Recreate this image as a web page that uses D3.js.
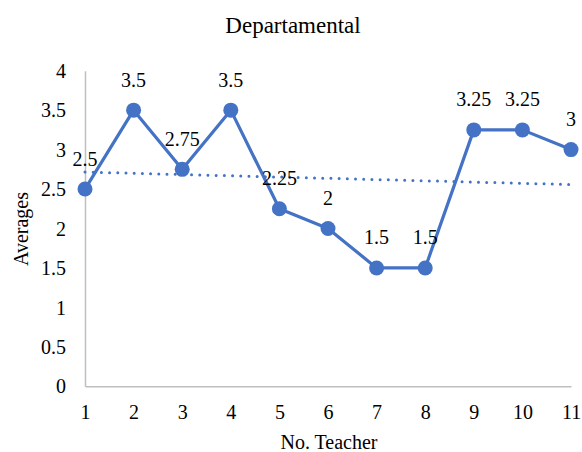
<!DOCTYPE html>
<html>
<head>
<meta charset="utf-8">
<script src="https://cdn.jsdelivr.net/npm/d3@7"></script>
<style>
  html, body { margin: 0; padding: 0; background: #fff; }
  svg text { font-family: "Liberation Serif", "Times New Roman", serif; fill: #000; }
</style>
</head>
<body>
<svg id="chart" width="582" height="452"></svg>
<script>
// Teacher numbers and their departmental averages
const teachers = [1, 2, 3, 4, 5, 6, 7, 8, 9, 10, 11];
const averages = [2.5, 3.5, 2.75, 3.5, 2.25, 2, 1.5, 1.5, 3.25, 3.25, 3];
const yTicks = [0, 0.5, 1, 1.5, 2, 2.5, 3, 3.5, 4];
const xTicks = teachers;

const svg = d3.select("#chart");
const blue = "#4472C4";
const axisGray = "#bfbfbf";
const serif = "'Liberation Serif', 'Times New Roman', serif";

const x = d3.scaleLinear().domain([1, 11]).range([85, 571]);
const y = d3.scaleLinear().domain([0, 4]).range([386.3, 70.7]);

// Title
svg.append("text")
  .attr("x", 293).attr("y", 33)
  .attr("text-anchor", "middle")
  .style("font-family", serif)
  .style("font-size", "23px")
  .text("Departamental");

// Y axis
const yAxis = svg.append("g")
  .attr("transform", `translate(${x(1)},0)`)
  .call(d3.axisLeft(y).tickValues(yTicks).tickSize(0).tickPadding(19)
    .tickFormat(d => String(d)));
yAxis.select(".domain").attr("stroke", axisGray).attr("stroke-width", 1.5);
yAxis.selectAll("text")
  .style("font-family", serif).style("font-size", "20px")
  .attr("dy", "0.33em");

// X axis
const xAxis = svg.append("g")
  .attr("transform", `translate(0,${y(0)})`)
  .call(d3.axisBottom(x).tickValues(xTicks).tickSize(0).tickPadding(0)
    .tickFormat(d => String(d)));
xAxis.select(".domain").attr("stroke", axisGray).attr("stroke-width", 1.5);
xAxis.selectAll("text")
  .style("font-family", serif).style("font-size", "20px")
  .attr("y", 33).attr("dy", 0);

// Axis titles
svg.append("text")
  .attr("transform", `translate(28,229) rotate(-90)`)
  .attr("text-anchor", "middle")
  .style("font-family", serif)
  .style("font-size", "20px")
  .text("Averages");

svg.append("text")
  .attr("x", 329).attr("y", 449)
  .attr("text-anchor", "middle")
  .style("font-family", serif)
  .style("font-size", "20px")
  .text("No. Teacher");

// Linear trendline (least squares fit over the averages)
const mx = d3.mean(teachers), my = d3.mean(averages);
const sxy = d3.sum(teachers, (t, i) => (t - mx) * (averages[i] - my));
const sxx = d3.sum(teachers, t => (t - mx) * (t - mx));
const slope = sxy / sxx, intercept = my - slope * mx;
const trend = [1, 11].map(t => [t, intercept + slope * t]);

svg.append("path")
  .datum(trend)
  .attr("d", d3.line().x(d => x(d[0])).y(d => y(d[1])))
  .attr("fill", "none")
  .attr("stroke", blue)
  .attr("stroke-width", 3)
  .attr("stroke-linecap", "round")
  .attr("stroke-dasharray", "0 8.2");

// Series line
const pts = teachers.map((t, i) => [t, averages[i]]);
svg.append("path")
  .datum(pts)
  .attr("d", d3.line().x(d => x(d[0])).y(d => y(d[1])))
  .attr("fill", "none")
  .attr("stroke", blue)
  .attr("stroke-width", 3.2)
  .attr("stroke-linejoin", "round");

// Markers
svg.append("g").selectAll("circle")
  .data(pts).join("circle")
  .attr("cx", d => x(d[0]))
  .attr("cy", d => y(d[1]))
  .attr("r", 7.5)
  .attr("fill", blue);

// Value labels
svg.append("g").selectAll("text")
  .data(pts).join("text")
  .attr("x", d => x(d[0]))
  .attr("y", d => y(d[1]) - 23.5)
  .attr("text-anchor", "middle")
  .style("font-family", serif)
  .style("font-size", "20px")
  .text(d => String(d[1]));
</script>
</body>
</html>
